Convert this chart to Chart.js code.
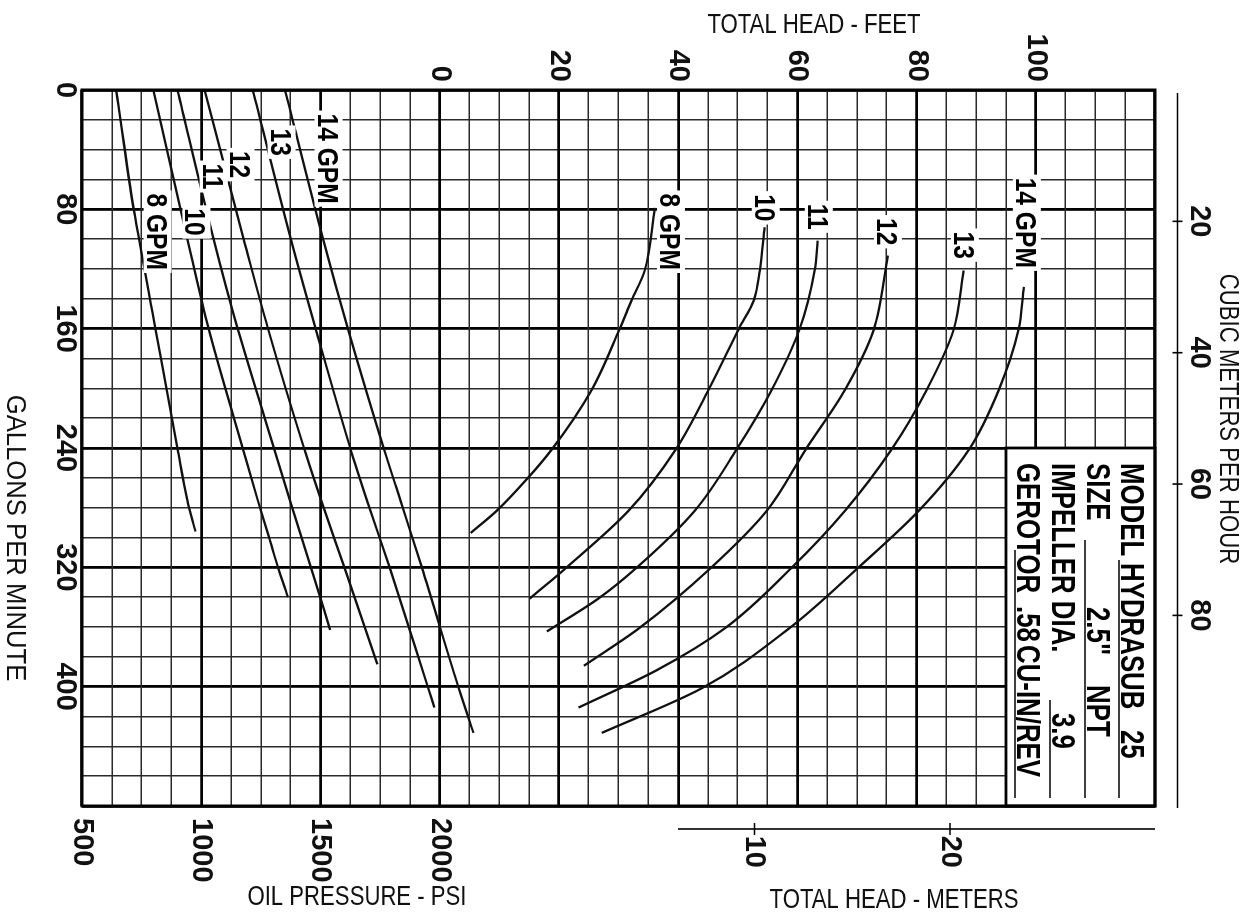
<!DOCTYPE html>
<html>
<head>
<meta charset="utf-8">
<script src="https://cdn.jsdelivr.net/npm/chart.js@4.4.1/dist/chart.umd.min.js"></script>
<style>
  html, body { margin: 0; padding: 0; background: #fff; overflow: hidden; }
  body { width: 1251px; height: 913px; position: relative; }
  /* the printed chart is turned a quarter turn clockwise */
  #wrap { position: absolute; left: 0; top: 0; width: 913px; height: 1251px;
          transform-origin: 0 0; transform: translate(1251px, 0) rotate(90deg); }
</style>
</head>
<body>
<div id="wrap"><canvas id="pump" width="913" height="1251"></canvas></div>
<script>
// ---- Axes ----
const gpmTicks = [0, 80, 160, 240, 320, 400];
const headFeetTicks = [0, 20, 40, 60, 80, 100];
const psiTicks = [500, 1000, 1500, 2000];
const meterTicks = [10, 20];
const cubicMeterTicks = [20, 40, 60, 80];

const flowLabels = ['8 GPM', '10', '11', '12', '13', '14 GPM'];

// ---- Oil pressure (psi) against water flow (gpm) ----
const psi8  = [[0, 643], [80, 717], [160, 808], [240, 900], [275, 942], [296, 976]];
const psi10 = [[0, 799], [100, 942], [160, 1031], [240, 1174], [275, 1237], [300, 1285], [320, 1322], [340, 1364]];
const psi11 = [[0, 900], [100, 1052], [160, 1153], [240, 1305], [275, 1372], [320, 1460], [362, 1541]];
const psi12 = [[0, 1014], [100, 1178], [160, 1280], [240, 1431], [275, 1503], [320, 1600], [385, 1739]];
const psi13 = [[0, 1216], [100, 1376], [160, 1480], [240, 1625], [275, 1695], [320, 1790], [400, 1950], [414, 1978]];
const psi14 = [[0, 1351], [100, 1511], [160, 1615], [240, 1765], [275, 1835], [320, 1925], [400, 2078], [431, 2142]];

// ---- Total head (ft) against water flow (gpm) ----
const head8  = [[79, 36.1], [121, 34.4], [141, 32.2], [160, 30.2], [201, 25.5], [241, 18.8], [261, 14.6], [282, 9.6], [297, 5.2]];
const head10 = [[92, 54.5], [121, 53.7], [141, 52.7], [160, 50.2], [201, 45.1], [241, 39.6], [282, 31.7], [320, 21.3], [341, 15.1]];
const head11 = [[101, 63.4], [121, 62.9], [160, 60.4], [201, 55.7], [241, 49.8], [282, 42.8], [320, 33.1], [341, 26.6], [363, 18.0]];
const head12 = [[111, 75.2], [161, 72.8], [201, 68.0], [241, 61.4], [282, 54.9], [320, 45.6], [361, 33.4], [386, 24.2]];
const head13 = [[121, 87.9], [161, 86.2], [201, 81.7], [241, 75.8], [282, 68.0], [320, 59.1], [361, 47.8], [389, 36.4], [414, 23.3]];
const head14 = [[132, 98.0], [161, 97.1], [201, 93.8], [241, 88.8], [282, 80.4], [321, 70.0], [361, 58.6], [401, 44.0], [431, 27.2]];

const boxLines = [['MODEL', 'HYDRASUB', '25'], ['SIZE', '2.5"', 'NPT'], ['IMPELLER DIA.', '3.9'], ['GEROTOR', '.58', 'CU-IN/REV']];

// ---- Unit helpers ----
// one vertical scale: feet of head above the 0 line, 25 psi per foot-step below it (2000 psi = 0 ft)
const psiToUnit = p => (p - 2000) / 25;
const GPM_PER_M3H = 4.40287;
const FT_PER_M = 3.28084;
const meterZeroFt = 20;   // the printed meter scale starts 20 ft up

const FONT = "'Liberation Sans', Arial, sans-serif";
const tickFont = { family: FONT, size: 29, weight: 'bold' };
const NARROW = 0.82;      // the print uses a condensed face

const lineStyle = { showLine: true, borderColor: '#111', borderWidth: 2.3, pointRadius: 0,
                    cubicInterpolationMode: 'monotone', fill: false };

const datasets = [
  ...[psi8, psi10, psi11, psi12, psi13, psi14].map((s, i) => ({
    label: 'psi ' + flowLabels[i], data: s.map(([g, p]) => ({ x: g, y: psiToUnit(p) })), ...lineStyle })),
  ...[head8, head10, head11, head12, head13, head14].map((s, i) => ({
    label: 'head ' + flowLabels[i], data: s.map(([g, h]) => ({ x: g, y: h })), ...lineStyle }))
];

// condensed text: (x, y) is the anchor, rot turns it
function narrowText(ctx, t, x, y, rot, k) {
  ctx.save();
  ctx.translate(x, y);
  if (rot) ctx.rotate(rot);
  ctx.scale(k || NARROW, 1);
  ctx.fillText(t, 0, 0);
  ctx.restore();
}

// ---- Labels, box, extra axis lines, titles ----
const overlay = {
  id: 'overlay',
  afterDatasetsDraw(chart) {
    const { ctx, chartArea: a } = chart;
    const { x, y, x2, y3 } = chart.scales;
    ctx.save();

    // model box
    const bx0 = x.getPixelForValue(240), bx1 = x.getPixelForValue(480);
    const by0 = y.getPixelForValue(120), by1 = y.getPixelForValue(95);
    ctx.fillStyle = '#fff';
    ctx.fillRect(bx0, by0, bx1 - bx0, by1 - by0);
    ctx.strokeStyle = '#000';
    ctx.lineWidth = 2.8;
    ctx.strokeRect(bx0, by0, bx1 - bx0, by1 - by0);

    ctx.fillStyle = '#000';
    ctx.font = 'bold 34px ' + FONT;
    ctx.textAlign = 'left';
    ctx.textBaseline = 'alphabetic';
    const rowBase = [34, 68, 103, 138];
    const textX = [[15, 115, 282], [15, 159, 237], [15, 265], [15, 158, 197]];
    const under = [[112, 350], [92, 350], [252, 350], [102, 350]];
    ctx.lineWidth = 1.5;
    boxLines.forEach((row, r) => {
      row.forEach((t, k) => narrowText(ctx, t, bx0 + textX[r][k], by0 + rowBase[r], 0, 0.76));
      ctx.beginPath();
      ctx.moveTo(bx0 + under[r][0], by0 + rowBase[r] + 2);
      ctx.lineTo(bx0 + under[r][1], by0 + rowBase[r] + 2);
      ctx.stroke();
    });

    // curve labels on white patches
    const pressureLabelAt = [[95, 817], [88.5, 980], [58, 1052], [50, 1165], [35, 1337], [46, 1534]];
    const headLabelAt = [[95, 38.8], [79, 54.7], [85, 63.6], [95, 75.2], [104, 88.1], [89, 98.5]];
    ctx.font = 'bold 30px ' + FONT;
    ctx.textAlign = 'center';
    const put = (t, px, py) => {
      const w = ctx.measureText(t).width * NARROW;
      ctx.fillStyle = '#fff';
      ctx.fillRect(px - w / 2 - 3, py - 14, w + 6, 28);
      ctx.fillStyle = '#000';
      narrowText(ctx, t, px, py + 11);
    };
    pressureLabelAt.forEach(([g, p], i) => put(flowLabels[i], x.getPixelForValue(g), y.getPixelForValue(psiToUnit(p))));
    headLabelAt.forEach(([g, h], i) => put(flowLabels[i], x.getPixelForValue(g), y.getPixelForValue(h)));

    // plot frame
    ctx.strokeStyle = '#000';
    ctx.lineWidth = 3;
    ctx.strokeRect(a.left, a.top, a.right - a.left, a.bottom - a.top);

    // cubic meters per hour scale, set off from the frame
    const cy = a.top - 22.5;
    ctx.lineWidth = 1.6;
    ctx.beginPath();
    ctx.moveTo(a.left + 3, cy);
    ctx.lineTo(a.right + 2, cy);
    cubicMeterTicks.forEach(t => {
      const px = x2.getPixelForValue(t);
      ctx.moveTo(px, cy - 5);
      ctx.lineTo(px, cy + 5);
    });
    ctx.stroke();

    // meters scale
    const mx = a.right + 23;
    ctx.beginPath();
    ctx.moveTo(mx, y.getPixelForValue(40));
    ctx.lineTo(mx, a.top);
    meterTicks.forEach(m => {
      const py = y3.getPixelForValue(meterZeroFt + m * FT_PER_M);
      ctx.moveTo(mx - 6, py);
      ctx.lineTo(mx + 6, py);
    });
    ctx.stroke();

    // axis titles
    ctx.fillStyle = '#111';
    ctx.font = '27px ' + FONT;
    ctx.textAlign = 'center';
    ctx.textBaseline = 'alphabetic';
    narrowText(ctx, 'GALLONS PER MINUTE', 538, 1244, 0, 0.95);
    narrowText(ctx, 'CUBIC METERS PER HOUR', 419, 31);
    narrowText(ctx, 'TOTAL HEAD - FEET', 33, 437, -Math.PI / 2);
    narrowText(ctx, 'OIL PRESSURE - PSI', 905, 894, -Math.PI / 2);
    narrowText(ctx, 'TOTAL HEAD - METERS', 908, 357, -Math.PI / 2);

    ctx.restore();
  }
};

const majorGrid = step => ({
  color: c => (c.tick && c.tick.value % step === 0) ? '#000' : '#2a2a2a',
  lineWidth: c => (c.tick && c.tick.value % step === 0) ? 2.8 : 1.5,
  drawTicks: false
});

new Chart(document.getElementById('pump'), {
  type: 'scatter',
  data: { datasets },
  options: {
    responsive: false,
    animation: false,
    devicePixelRatio: 1,
    events: [],
    layout: { padding: 0, autoPadding: false },
    plugins: { legend: { display: false }, tooltip: { enabled: false } },
    scales: {
      x: {
        type: 'linear', position: 'bottom', min: 0, max: 480,
        afterFit: s => { s.height = 82; },
        border: { display: false },
        grid: majorGrid(80),
        ticks: { stepSize: 20, autoSkip: false, maxRotation: 0, padding: 0, color: '#111', font: tickFont,
                 callback: v => gpmTicks.includes(v) ? v : '' }
      },
      x2: {
        type: 'linear', position: 'top', min: 0, max: 480 / GPM_PER_M3H,
        afterFit: s => { s.height = 96; },
        afterBuildTicks: s => { s.ticks = cubicMeterTicks.map(v => ({ value: v })); },
        border: { display: false },
        grid: { display: false, drawTicks: false },
        ticks: { autoSkip: false, maxRotation: 0, padding: 27, color: '#111', font: tickFont }
      },
      y: {
        type: 'linear', position: 'left', min: -60, max: 120,
        afterFit: s => { s.width = 90; },
        border: { display: false },
        grid: majorGrid(20),
        ticks: { stepSize: 5, autoSkip: false, padding: 8, color: '#111', font: tickFont,
                 callback: v => headFeetTicks.includes(v) ? v : '' }
      },
      y2: {
        type: 'linear', position: 'right', weight: 0, min: -60, max: 120,
        afterFit: s => { s.width = 107; },
        afterBuildTicks: s => { s.ticks = psiTicks.map(p => ({ value: psiToUnit(p) })); },
        border: { display: false },
        grid: { display: false, drawTicks: false },
        ticks: { autoSkip: false, padding: 12, color: '#111', font: tickFont,
                 callback: v => Math.round(2000 + v * 25) }
      },
      y3: {
        type: 'linear', position: 'right', weight: 1, min: -60, max: 120,
        afterFit: s => { s.width = 0; },
        afterBuildTicks: s => { s.ticks = meterTicks.map(m => ({ value: meterZeroFt + m * FT_PER_M })); },
        border: { display: false },
        grid: { display: false, drawTicks: false },
        ticks: { autoSkip: false, mirror: true, padding: -45, color: '#111', font: tickFont,
                 callback: (v, i) => meterTicks[i] }
      }
    }
  },
  plugins: [overlay]
});
</script>
</body>
</html>
